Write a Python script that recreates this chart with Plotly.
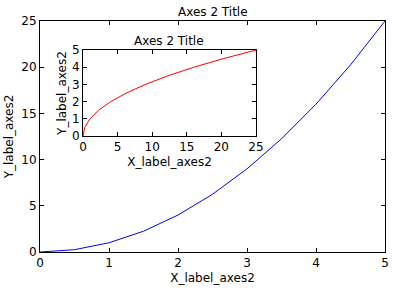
import plotly.graph_objects as go

x = [0, 0.5, 1, 1.5, 2, 2.5, 3, 3.5, 4, 4.5, 5]
y = [0, 0.25, 1, 2.25, 4, 6.25, 9, 12.25, 16, 20.25, 25]
main_title = "Axes 2 Title"
inset_title = "Axes 2 Title"
xlabel = "X_label_axes2"
ylabel = "Y_label_axes2"

FONT = dict(family="DejaVu Sans", size=12, color="black")

fig = go.Figure()
fig.add_trace(go.Scatter(x=x, y=y, mode="lines", line=dict(color="blue", width=1),
                         xaxis="x", yaxis="y", showlegend=False))
fig.add_trace(go.Scatter(x=y, y=x, mode="lines", line=dict(color="red", width=1),
                         xaxis="x2", yaxis="y2", showlegend=False))

axcommon = dict(showline=True, linecolor="black", linewidth=1, mirror="allticks",
                ticks="inside", ticklen=4, tickwidth=1, tickcolor="black",
                showgrid=False, zeroline=False, tickfont=FONT, automargin=False)

fig.update_layout(
    width=395, height=289,
    margin=dict(l=40, r=10, t=21, b=37, autoexpand=False),
    paper_bgcolor="white", plot_bgcolor="white",
    font=FONT,
    xaxis=dict(range=[0, 5], dtick=1, domain=[0, 1], anchor="y",
               title=dict(text=xlabel, font=FONT, standoff=4), **axcommon),
    yaxis=dict(range=[0, 25], dtick=5, domain=[0, 1], anchor="x",
               title=dict(text=ylabel, font=FONT, standoff=5), **axcommon),
    xaxis2=dict(range=[0, 25], dtick=5, domain=[0.1246, 0.626], anchor="y2",
                title=dict(text=xlabel, font=FONT, standoff=4), **axcommon),
    yaxis2=dict(range=[0, 5], dtick=1, domain=[0.502, 0.874], anchor="x2",
                title=dict(text=ylabel, font=FONT, standoff=2), **axcommon),
    annotations=[
        dict(text=main_title, xref="paper", yref="paper", x=0.5, y=1.0,
             xanchor="center", yanchor="bottom", showarrow=False, font=FONT, yshift=0),
        dict(text=inset_title, xref="paper", yref="paper", x=(0.1246 + 0.626) / 2, y=0.874,
             xanchor="center", yanchor="bottom", showarrow=False, font=FONT, yshift=0),
    ],
)

fig.write_html("out.html")
